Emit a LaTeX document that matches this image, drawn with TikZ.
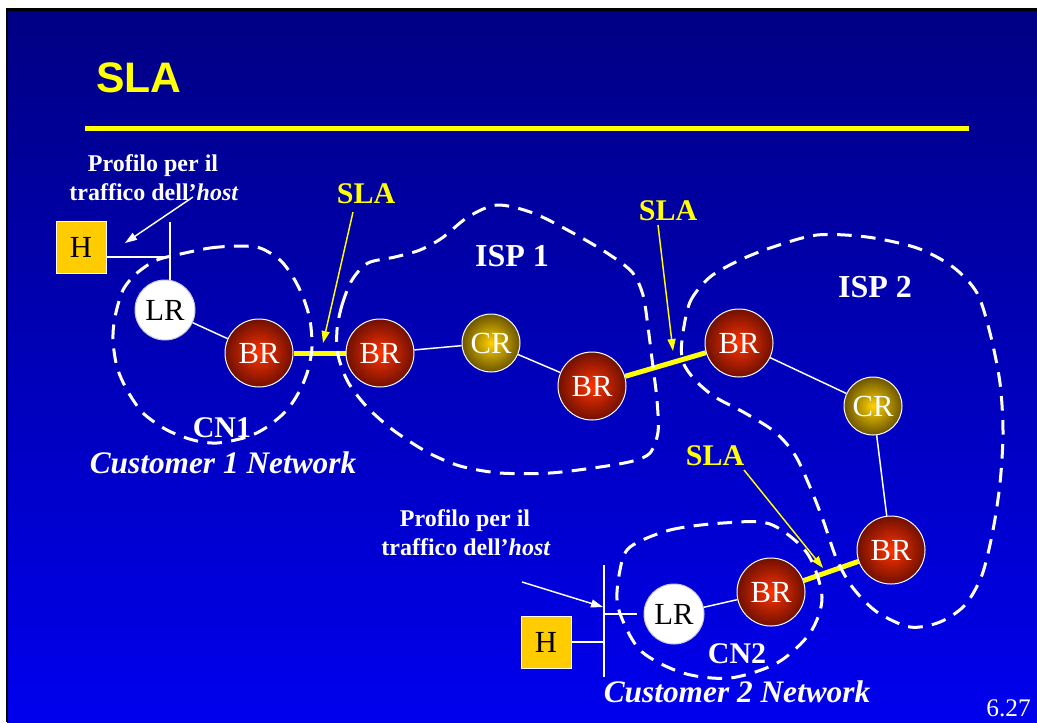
\documentclass[tikz,border=0pt]{standalone}
\usepackage{fontspec}
\setmainfont{Liberation Serif}
\newfontfamily\headfont{Liberation Sans}
\usetikzlibrary{arrows.meta}

\definecolor{bgtop}{RGB}{0,0,102}
\definecolor{bgmid}{RGB}{0,0,112}
\definecolor{bgbot}{RGB}{0,0,255}
\definecolor{slayellow}{RGB}{255,255,0}
\definecolor{hostfill}{RGB}{255,204,0}
\definecolor{brin}{RGB}{255,51,0}
\definecolor{brout}{RGB}{112,16,0}
\definecolor{crin}{RGB}{255,210,0}
\definecolor{crout}{RGB}{107,85,0}
\definecolor{lredge}{RGB}{200,200,220}

% slide background: dark navy at the top, bright blue at the bottom
\pgfdeclareverticalshading{slidebg}{100bp}{color(0bp)=(bgbot); color(17bp)=(bgbot); color(84bp)=(bgmid); color(100bp)=(bgtop)}

\pgfdeclarelayer{bg}
\pgfdeclarelayer{links}
\pgfsetlayers{bg,links,main}

\tikzset{
  wire/.style={white, line width=1.1pt},
  trunk/.style={slayellow, line width=3.75pt},
  cloud/.style={white, line width=2.25pt, dash pattern=on 11pt off 7pt},
  pointer/.style={white, line width=1.1pt, -{Triangle[length=9pt,width=6pt]}},
  slapointer/.style={slayellow, line width=1.1pt, -{Triangle[length=9pt,width=6pt]}},
  router/.style={circle, draw=white, line width=0.75pt, inner sep=0, text=white,
                 font=\fontsize{23}{27}\selectfont},
  brnode/.style={router, minimum size=51pt, shading=radial, inner color=brin, outer color=brout},
  crnode/.style={router, minimum size=43.5pt, shading=radial, inner color=crin, outer color=crout},
  lrnode/.style={router, minimum size=45pt, fill=white, draw=lredge, text=black},
  hostbox/.style={draw=white, line width=0.75pt, fill=hostfill, minimum width=37.5pt,
                  minimum height=39pt, inner sep=0, font=\fontsize{23}{27}\selectfont},
  note/.style={inner sep=0, anchor=base, text=white, font=\bfseries\fontsize{18}{22}\selectfont},
  slalabel/.style={inner sep=0, anchor=base, text=slayellow, font=\bfseries\fontsize{22.5}{27}\selectfont},
  netlabel/.style={inner sep=0, anchor=base, text=white, font=\bfseries\fontsize{24}{28}\selectfont},
  cnlabel/.style={inner sep=0, anchor=base, text=white, font=\bfseries\fontsize{22.5}{27}\selectfont},
  custlabel/.style={inner sep=0, anchor=base, text=white, font=\bfseries\itshape\fontsize{23.5}{28}\selectfont},
}

\begin{document}
\begin{tikzpicture}[x=0.75pt, y=-0.75pt]
\useasboundingbox (0,0) rectangle (1037,722);

\begin{pgfonlayer}{bg}
  \fill[white] (0,0) rectangle (1037,722);
  \shade[shading=slidebg] (7,9) rectangle (1037,722);
  \draw[black, line width=2pt] (7,722) -- (7,9.5) -- (1037,9.5);
\end{pgfonlayer}

% title and rule
\node[anchor=base west, inner sep=0, text=slayellow, font=\headfont\bfseries\fontsize{32}{38}\selectfont]
  (title) at (96,92) {SLA};
\draw[slayellow, line width=3.75pt] (85,128) -- (969,128);

% hosts
\node[hostbox] (H1) at (81,247) {H};
\node[hostbox] (H2) at (546,642) {H};

% routers
\node[lrnode] (LR1) at (165,310) {LR};
\node[brnode] (BR1) at (259,353) {BR};
\node[brnode] (BR2) at (380,353) {BR};
\node[crnode] (CR1) at (491,343) {CR};
\node[brnode] (BR3) at (592,386) {BR};
\node[brnode] (BR4) at (739,343) {BR};
\node[crnode] (CR2) at (873,406) {CR};
\node[brnode] (BR5) at (891,550) {BR};
\node[brnode] (BR6) at (771,592) {BR};
\node[lrnode] (LR2) at (674,614) {LR};

% labels
\node[note] (prof1a) at (153,171) {Profilo per il};
\node[note] (prof1b) at (154,200) {traffico dell’\textit{host}};
\node[note] (prof2a) at (465,526) {Profilo per il};
\node[note] (prof2b) at (466,555) {traffico dell’\textit{host}};

\node[slalabel] (sla1) at (366,203) {SLA};
\node[slalabel] (sla2) at (668,220) {SLA};
\node[slalabel] (sla3) at (715,465) {SLA};

\node[netlabel] (isp1) at (512,266) {ISP 1};
\node[netlabel] (isp2) at (875,297) {ISP 2};

\node[cnlabel] (cn1) at (222,437) {CN1};
\node[custlabel] (cust1) at (223,473) {Customer 1 Network};
\node[cnlabel] (cn2) at (737,663) {CN2};
\node[custlabel] (cust2) at (737,702) {Customer 2 Network};

\node[inner sep=0, anchor=base east, text=white, font=\fontsize{19}{22}\selectfont]
  (pageno) at (1031,716) {6.27};

% arrow end points
\coordinate (p1from) at (193,197);
\coordinate (p1to)   at (125,243);
\coordinate (p2from) at (522,582);
\coordinate (p2to)   at (603,607);
\coordinate (s1from) at (353,212);
\coordinate (s1to)   at (323,343);
\coordinate (s2from) at (658,225);
\coordinate (s2to)   at (673,351);
\coordinate (s3from) at (744,470);
\coordinate (s3to)   at (823,568);
\coordinate (bus1)   at (170,222);
\coordinate (bus2top) at (604,565);
\coordinate (bus2bot) at (604,677);

\begin{pgfonlayer}{links}
  % host attachments
  \draw[wire] ([yshift=-7.5pt]H1.east) -| (bus1);
  \draw[wire] (bus1) -- (bus1 |- LR1.north);
  \draw[wire] (bus2top) -- (bus2bot);
  \draw[wire] (H2.east) -- (H2.east -| bus2top);
  \draw[wire] (bus2top |- LR2) -- ([xshift=-5pt]LR2.west);

  % internal links
  \draw[wire] (LR1) -- (BR1);
  \draw[wire] (BR2) -- (CR1);
  \draw[wire] (CR1) -- (BR3);
  \draw[wire] (BR4) -- (CR2);
  \draw[wire] (CR2) -- (BR5);
  \draw[wire] (LR2) -- (BR6);

  % links between domains
  \draw[trunk] (BR1) -- (BR2);
  \draw[trunk] (BR3) -- (BR4);
  \draw[trunk] (BR6) -- (BR5);

  % domain boundaries
  \draw[cloud] plot[smooth cycle] coordinates {
    (185,253) (210,248) (237,246) (260,248) (280,260) (293,277) (303,297) (310,320)
    (312,347) (308,370) (300,390) (287,410) (267,427) (247,437) (217,443) (193,440)
    (167,430) (143,413) (127,390) (117,367) (113,340) (115,317) (123,290) (137,273)
    (157,260)};
  \draw[cloud] plot[smooth cycle] coordinates {
    (337,330) (342,305) (352,280) (368,263) (395,257) (420,250) (442,238) (468,217)
    (497,205) (533,213) (573,233) (607,253) (632,272) (643,295) (648,327) (653,367)
    (657,400) (658,432) (650,453) (633,461) (600,467) (550,473) (500,473) (460,466)
    (427,452) (393,430) (367,407) (348,382) (338,355)};
  \draw[cloud] plot[smooth cycle] coordinates {
    (682,340) (690,302) (710,277) (740,260) (773,247) (817,235) (867,237) (917,248)
    (953,267) (977,293) (990,333) (1000,383) (1003,433) (1000,483) (993,530) (982,575)
    (965,605) (940,622) (910,627) (877,612) (853,588) (837,560) (823,520) (810,487)
    (795,455) (775,432) (745,413) (715,397) (695,380) (683,362)};
  \draw[cloud] plot[smooth cycle] coordinates {
    (630,547) (670,530) (723,523) (770,524) (807,553) (822,597) (810,633) (777,663)
    (730,678) (683,673) (640,650) (618,607) (620,570)};
\end{pgfonlayer}

% pointers
\draw[pointer] (p1from) -- (p1to);
\draw[pointer] (p2from) -- (p2to);
\draw[slapointer] (s1from) -- (s1to);
\draw[slapointer] (s2from) -- (s2to);
\draw[slapointer] (s3from) -- (s3to);

\end{tikzpicture}
\end{document}
